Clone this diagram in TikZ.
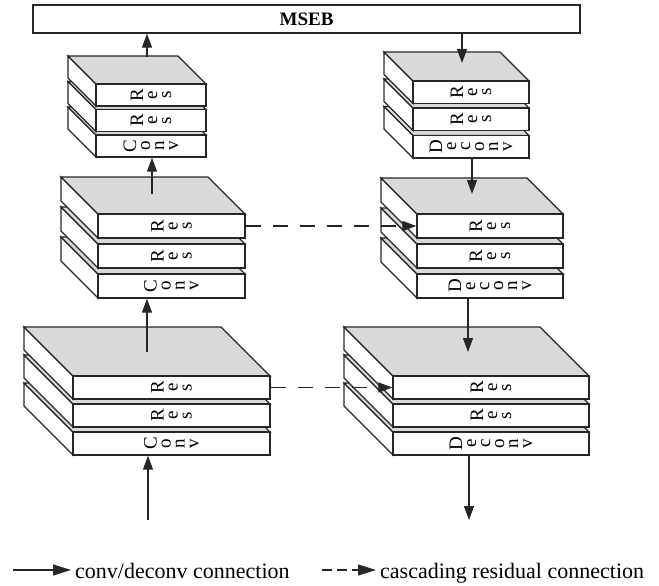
\documentclass[tikz,border=0pt]{standalone}
\usepackage{fontspec}
\setmainfont{Liberation Serif}
\usepackage{tikz}
\usetikzlibrary{arrows.meta,calc}

% one slab: name, x, y (front top-left), width, height, depth, label
\newcommand{\layer}[7]{%
  \draw[sideface] (#2,#3) -- ++(-#6,-#6) -- ++(0,#5) -- (#2,{#3+#5}) -- cycle;
  \draw[topface] (#2,#3) -- ++(-#6,-#6) -- ++(#4,0) -- ({#2+#4},#3) -- cycle;
  \node[face, minimum width=#4, minimum height=#5] (#1) at ({#2+#4/2},{#3+#5/2}) {};
  \node[boxlabel] (#1txt) at (#1) {#7};
}

\begin{document}
\begin{tikzpicture}[x=1pt, y=-1pt,
    face/.style={draw=black!85, line width=1.3pt, fill=white, inner sep=0pt},
    sideface/.style={draw=black!85, line width=1.3pt, fill=white},
    topface/.style={draw=black!85, line width=1.3pt, fill=gray!30},
    boxlabel/.style={rotate=90, align=center, inner sep=0pt, font=\fontsize{19}{14}\selectfont},
    conn/.style={-{Triangle[length=14pt,width=10pt]}, line width=1.2pt, draw=black!85},
    resconn/.style={conn, dash pattern=on 15pt off 12pt},
    legendarrow/.style={-{Triangle[length=18pt,width=11pt]}, line width=1.2pt, draw=black!85},
    legendtxt/.style={anchor=west, inner xsep=4pt, inner ysep=0pt, text height=16pt, text depth=0pt,
                      font=\fontsize{22}{24}\selectfont}]
    \useasboundingbox (0,0) rectangle (659,586);

    % MSEB
    \node[face, minimum width=547, minimum height=28, font=\fontsize{19}{22}\selectfont\bfseries] (mseb) at (306.5,19) {MSEB};

    % Left column
    \layer{l1conv}{73}{432}{197}{23}{49}{C\\o\\n\\v}
    \layer{l1res2}{73}{404}{197}{23}{49}{R\\e\\s}
    \layer{l1res1}{73}{376}{197}{23}{49}{R\\e\\s}

    \layer{l2conv}{98}{274}{147}{24}{37}{C\\o\\n\\v}
    \layer{l2res2}{98}{244}{147}{24}{37}{R\\e\\s}
    \layer{l2res1}{98}{214}{147}{24}{37}{R\\e\\s}

    \layer{l3conv}{96}{135}{110}{22}{28}{C\\o\\n\\v}
    \layer{l3res2}{96}{109.5}{110}{22}{28}{R\\e\\s}
    \layer{l3res1}{96}{84}{110}{22}{28}{R\\e\\s}

    % Right column
    \layer{r3deconv}{413}{135.5}{116}{22.5}{29}{D\\e\\c\\o\\n\\v}
    \layer{r3res2}{413}{108}{116}{22.5}{29}{R\\e\\s}
    \layer{r3res1}{413}{81}{116}{22.5}{29}{R\\e\\s}

    \layer{r2deconv}{417}{274}{146}{24}{36}{D\\e\\c\\o\\n\\v}
    \layer{r2res2}{417}{244}{146}{24}{36}{R\\e\\s}
    \layer{r2res1}{417}{214}{146}{24}{36}{R\\e\\s}

    \layer{r1deconv}{393}{432}{196}{23}{49}{D\\e\\c\\o\\n\\v}
    \layer{r1res2}{393}{404}{196}{23}{49}{R\\e\\s}
    \layer{r1res1}{393}{376}{196}{23}{49}{R\\e\\s}

    % conv/deconv connections
    \coordinate (in) at (148,520);
    \coordinate (l1up) at (147,352);
    \coordinate (l2up) at (152,194);
    \coordinate (l3up) at (147,57);
    \draw[conn] (in) -- (in |- l1conv.south);
    \draw[conn] (l1up) -- (l1up |- l2conv.south);
    \draw[conn] (l2up) -- (l2up |- l3conv.south);
    \draw[conn] (l3up) -- (l3up |- mseb.south);

    \coordinate (r3in) at (462,63);
    \coordinate (r2in) at (472,194);
    \coordinate (r1in) at (468,352);
    \coordinate (out) at (469,520);
    \draw[conn] (r3in |- mseb.south) -- (r3in);
    \draw[conn] (r2in |- r3deconv.south) -- (r2in);
    \draw[conn] (r1in |- r2deconv.south) -- (r1in);
    \draw[conn] (out |- r1deconv.south) -- (out);

    % cascading residual connections
    \draw[resconn] (l2res1) -- (r2res1);
    \draw[resconn] (l1res1) -- (r1res1);

    % Legend
    \coordinate (lg1) at (13,570);
    \node[legendtxt] (lgconn) at (71,570) {conv/deconv connection};
    \draw[legendarrow] (lg1) -- (lgconn.west);
    \coordinate (lg2) at (322,570);
    \node[legendtxt] (lgres) at (376,570) {cascading residual connection};
    \draw[legendarrow, dash pattern=on 10pt off 5pt] (lg2) -- (lgres.west);
\end{tikzpicture}
\end{document}
